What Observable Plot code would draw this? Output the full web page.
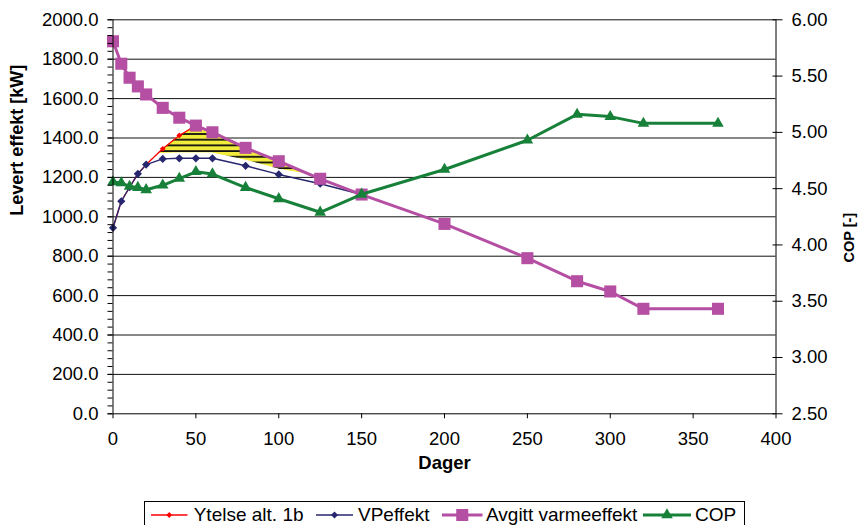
<!DOCTYPE html>
<html><head><meta charset="utf-8">
<script src="https://cdn.jsdelivr.net/npm/d3@7"></script>
<script src="https://cdn.jsdelivr.net/npm/@observablehq/plot@0.6"></script>
<style>
body{margin:0;background:#fff;font-family:"Liberation Sans",Arial,sans-serif;}
#wrap{position:relative;width:858px;height:525px;overflow:hidden;background:#fff;}
#chart svg{display:block;}
#legend{position:absolute;left:144px;top:501px;width:601px;height:40px;border:1px solid #000;box-sizing:border-box;background:#fff;}
.sw{position:absolute;top:5px;height:16px;overflow:visible;}
.lt{position:absolute;top:3px;font-size:19px;line-height:1;white-space:nowrap;color:#000;}
</style></head>
<body><div id="wrap"><div id="chart"></div><div id="legend"></div></div>
<script>
// ---- data ----
const xTitle = "Dager";
const yTitle = "Levert effekt [kW]";
const y2Title = "COP [-]";
const seriesNames = ["Ytelse alt. 1b", "VPeffekt", "Avgitt varmeeffekt", "COP"];
const seriesColors = ["#ff0000", "#27276f", "#b54fa3", "#178039"];

const xTicks = [0, 50, 100, 150, 200, 250, 300, 350, 400];
const yTicks = [0, 200, 400, 600, 800, 1000, 1200, 1400, 1600, 1800, 2000];
const yMinorTicks = d3.range(0, 2001, 40);
const copTicks = [2.5, 3.0, 3.5, 4.0, 4.5, 5.0, 5.5, 6.0];

const avgittDays = [0, 5, 10, 15, 20, 30, 40, 50, 60, 80, 100, 125, 150, 200, 250, 280, 300, 320, 365];
const avgittKw   = [1891, 1777, 1706, 1662, 1621, 1553, 1503, 1463, 1429, 1350, 1282, 1193, 1113, 964, 790, 673, 621, 533, 533];

const vpDays = [0, 5, 10, 15, 20, 30, 40, 50, 60, 80, 100, 125, 150];
const vpKw   = [944, 1079, 1150, 1218, 1265, 1294, 1297, 1297, 1297, 1259, 1215, 1168, 1113];

const ytelseDays = [0, 5, 10, 15, 20, 30, 40, 50, 60, 80, 100, 125, 150];
const ytelseKw   = [944, 1079, 1150, 1218, 1265, 1345, 1413, 1463, 1429, 1350, 1282, 1193, 1113];

const copDays = [0, 5, 10, 15, 20, 30, 40, 50, 60, 80, 100, 125, 150, 200, 250, 280, 300, 320, 365];
const copVals = [4.56, 4.55, 4.52, 4.51, 4.49, 4.53, 4.59, 4.65, 4.63, 4.51, 4.41, 4.29, 4.45, 4.67, 4.93, 5.16, 5.14, 5.08, 5.08];

// hatched (yellow) annotation region
const hatchDays = [27, 40, 47, 60, 80, 100, 122];
const hatchTop  = [1320, 1413, 1447, 1435, 1350, 1275, 1208];
const hatchLow  = [1320, 1322, 1322, 1322, 1286, 1240, 1208];

// ---- build tables ----
const toRows = (xs, ys) => xs.map((d, i) => ({d, v: ys[i]}));
const avgitt = toRows(avgittDays, avgittKw);
const vp = toRows(vpDays, vpKw);
const ytelse = toRows(ytelseDays, ytelseKw);
const cop = toRows(copDays, copVals);
const hatch = hatchDays.map((d, i) => ({d, hi: hatchTop[i], lo: hatchLow[i]}));
const copToKw = d3.scaleLinear([2.5, 6], [0, 2000]);
const copKwTicks = copTicks.map(c => copToKw(c));

const [cRed, cNavy, cMag, cGreen] = seriesColors;

const chart = Plot.plot({
  width: 858, height: 500,
  marginLeft: 112.5, marginRight: 82.5, marginTop: 19.3, marginBottom: 86.7,
  style: {fontFamily: "Liberation Sans, Arial, sans-serif", fontSize: "18.5px", background: "#fff", color: "#000", overflow: "visible"},
  x: {domain: [0, 400]},
  y: {domain: [0, 2000]},
  marks: [
    Plot.ruleY(yTicks.slice(1), {stroke: "#111", strokeWidth: 1}),
    Plot.areaY(hatch, {x: "d", y1: "lo", y2: "hi", fill: "url(#hatch)"}),
    Plot.line(hatch, {x: "d", y: "lo", stroke: "#fff", strokeWidth: 1.5}),
    Plot.line(ytelse, {x: "d", y: "v", stroke: cRed, strokeWidth: 1.3}),
    Plot.dot(ytelse, {x: "d", y: "v", symbol: d3.symbolDiamond2, r: 2.6, fill: cRed, stroke: "none"}),
    Plot.line(vp, {x: "d", y: "v", stroke: cNavy, strokeWidth: 1.4}),
    Plot.dot(vp, {x: "d", y: "v", symbol: d3.symbolDiamond2, r: 3.7, fill: cNavy, stroke: "none"}),
    Plot.line(avgitt, {x: "d", y: "v", stroke: cMag, strokeWidth: 3}),
    Plot.dot(avgitt, {x: "d", y: "v", symbol: d3.symbolSquare, r: 6.8, fill: cMag, stroke: "none"}),
    Plot.line(cop, {x: "d", y: d => copToKw(d.v), stroke: cGreen, strokeWidth: 3}),
    Plot.dot(cop, {x: "d", y: d => copToKw(d.v), symbol: d3.symbolTriangle, r: 4.3, fill: cGreen, stroke: "none"}),
    Plot.ruleY([0], {stroke: "#000", strokeWidth: 1}),
    Plot.ruleX([0], {stroke: "#000", strokeWidth: 1}),
    Plot.ruleX([400], {stroke: "#000", strokeWidth: 1}),
    Plot.axisX({ticks: xTicks, tickSize: 5, tickPadding: 13, label: null, tickFormat: d => String(d)}),
    Plot.axisY({ticks: yMinorTicks, tickSize: 5, tickFormat: () => "", label: null}),
    Plot.axisY({ticks: yTicks, tickSize: 5, tickPadding: 9.5, tickFormat: d => d.toFixed(1), label: null}),
    Plot.axisY({anchor: "right", ticks: copKwTicks, tickSize: 10, dx: -4, tickFormat: () => "", label: null}),
    Plot.axisY({anchor: "right", ticks: copKwTicks, tickSize: 0, tickPadding: 15.5, tickFormat: d => copToKw.invert(d).toFixed(2), label: null}),
    Plot.text([xTitle], {frameAnchor: "bottom", dy: 54.7, text: d => d, fontWeight: "bold", fontSize: 18.5}),
    Plot.text([yTitle], {frameAnchor: "left", dx: -96, dy: -1, rotate: -90, text: d => d, fontWeight: "bold", fontSize: 18}),
    Plot.text([y2Title], {frameAnchor: "right", dx: 73.5, dy: -4, rotate: -90, text: d => d, fontWeight: "bold", fontSize: 14.5})
  ]
});

// hatch pattern (yellow with black horizontal stripes)
const defs = d3.select(chart).insert("defs", ":first-child");
const pat = defs.append("pattern").attr("id", "hatch").attr("patternUnits", "userSpaceOnUse")
  .attr("width", 8).attr("height", 5.7);
pat.append("rect").attr("width", 8).attr("height", 5.7).attr("fill", "#f1ec3c");
pat.append("rect").attr("y", 2).attr("width", 8).attr("height", 1.8).attr("fill", "#111");

document.getElementById("chart").appendChild(chart);

// ---- legend ----
const legend = d3.select("#legend");
const items = [
  {name: seriesNames[0], color: cRed, sym: d3.symbolDiamond2, r: 2.6, lw: 1.3, x0: 6, w: 36.5, tx: 48.7},
  {name: seriesNames[1], color: cNavy, sym: d3.symbolDiamond2, r: 3.2, lw: 1.4, x0: 171, w: 37, tx: 213},
  {name: seriesNames[2], color: cMag, sym: d3.symbolSquare, r: 6.8, lw: 3, x0: 296.5, w: 40.5, tx: 341},
  {name: seriesNames[3], color: cGreen, sym: d3.symbolTriangle, r: 4.3, lw: 3, x0: 498, w: 48, tx: 550}
];
for (const it of items) {
  const s = legend.append("svg").attr("class", "sw").style("left", it.x0 + "px")
    .attr("width", it.w).attr("height", 16);
  s.append("line").attr("x1", 0).attr("x2", it.w).attr("y1", 8).attr("y2", 8)
    .attr("stroke", it.color).attr("stroke-width", it.lw);
  s.append("path").attr("transform", `translate(${it.w / 2},8)`)
    .attr("d", d3.symbol(it.sym, it.r * it.r * Math.PI)()).attr("fill", it.color);
  legend.append("span").attr("class", "lt").style("left", it.tx + "px").text(it.name);
}
</script>
</body></html>
